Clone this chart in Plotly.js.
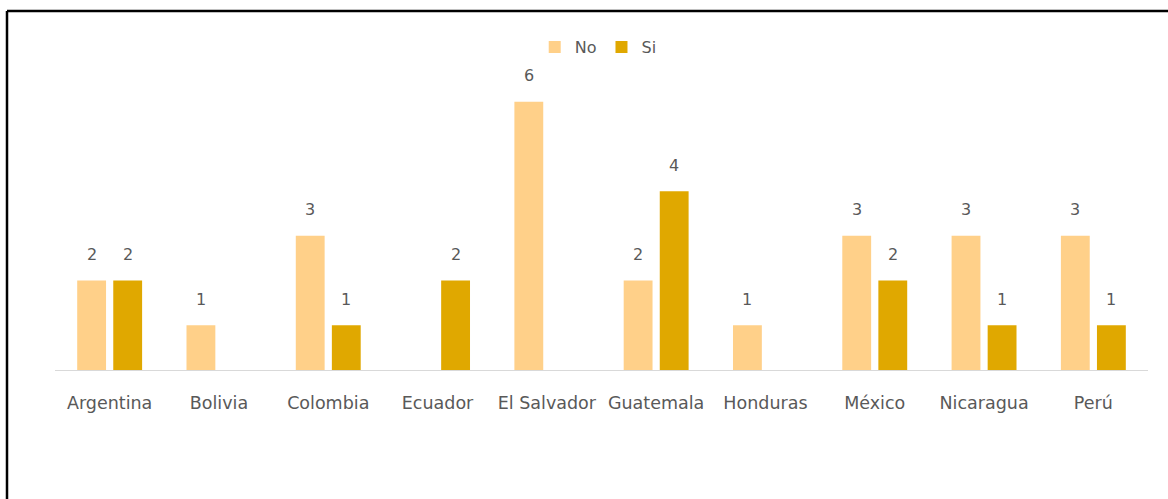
<!DOCTYPE html>
<html>
<head>
<meta charset="utf-8">
<script src="https://cdn.plot.ly/plotly-3.0.1.min.js"></script>
<style>
html,body{margin:0;padding:0;background:#fff;}
#chart{width:1168px;height:499px;}
</style>
</head>
<body>
<div id="chart"></div>
<script>
const categories = ["Argentina","Bolivia","Colombia","Ecuador","El Salvador","Guatemala","Honduras","México","Nicaragua","Perú"];
const noValues = [2, 1, 3, null, 6, 2, 1, 3, 3, 3];
const siValues = [2, null, 1, 2, null, 4, null, 2, 1, 1];
const seriesNames = ["No", "Si"];
const colors = ["#FFD089", "#E0A800"];

const labelColor = "#595959";
const fontFamily = "'DejaVu Sans', sans-serif";

const traces = [
  {type:"bar", name:seriesNames[0], x:categories, y:noValues, marker:{color:colors[0]}, hoverinfo:"x+y"},
  {type:"bar", name:seriesNames[1], x:categories, y:siValues, marker:{color:colors[1]}, hoverinfo:"x+y"}
];

const annotations = [];
[noValues, siValues].forEach((vals, si) => {
  vals.forEach((v, i) => {
    if (v === null || v === undefined) return;
    annotations.push({
      x: categories[i], y: v, xref:"x", yref:"y",
      text: String(v), showarrow:false,
      xshift: si === 0 ? -18 : 18, yshift: 26,
      yanchor:"middle",
      font:{family:fontFamily, size:16, color:labelColor}
    });
  });
});

const layout = {
  width:1168, height:499,
  margin:{l:55, r:20, t:57, b:129},
  paper_bgcolor:"#ffffff", plot_bgcolor:"#ffffff",
  barmode:"group", bargap:0.34, bargroupgap:0.2,
  showlegend:true,
  legend:{orientation:"h", x:0.497, xanchor:"center", y:1.032, yanchor:"middle",
          font:{family:fontFamily, size:16, color:labelColor}, itemwidth:30, traceorder:"normal"},
  xaxis:{type:"category", showline:true, linecolor:"#d9d9d9", linewidth:1,
         showgrid:false, zeroline:false, ticks:"outside", ticklen:17, tickcolor:"rgba(0,0,0,0)",
         tickfont:{family:fontFamily, size:17.5, color:labelColor}, fixedrange:true},
  yaxis:{range:[0,7], showgrid:false, zeroline:false, showticklabels:false, showline:false, fixedrange:true},
  annotations: annotations,
  shapes:[
    {type:"line", xref:"paper", yref:"paper", x0:(7-55)/1093, x1:(1168-55)/1093, y0:(370-11)/313, y1:(370-11)/313, line:{color:"#000", width:2.5}},
    {type:"line", xref:"paper", yref:"paper", x0:(7-55)/1093, x1:(7-55)/1093, y0:(370-11)/313, y1:(370-499)/313, line:{color:"#000", width:2.5}}
  ]
};

Plotly.newPlot("chart", traces, layout, {displayModeBar:false, staticPlot:true});
</script>
</body>
</html>
